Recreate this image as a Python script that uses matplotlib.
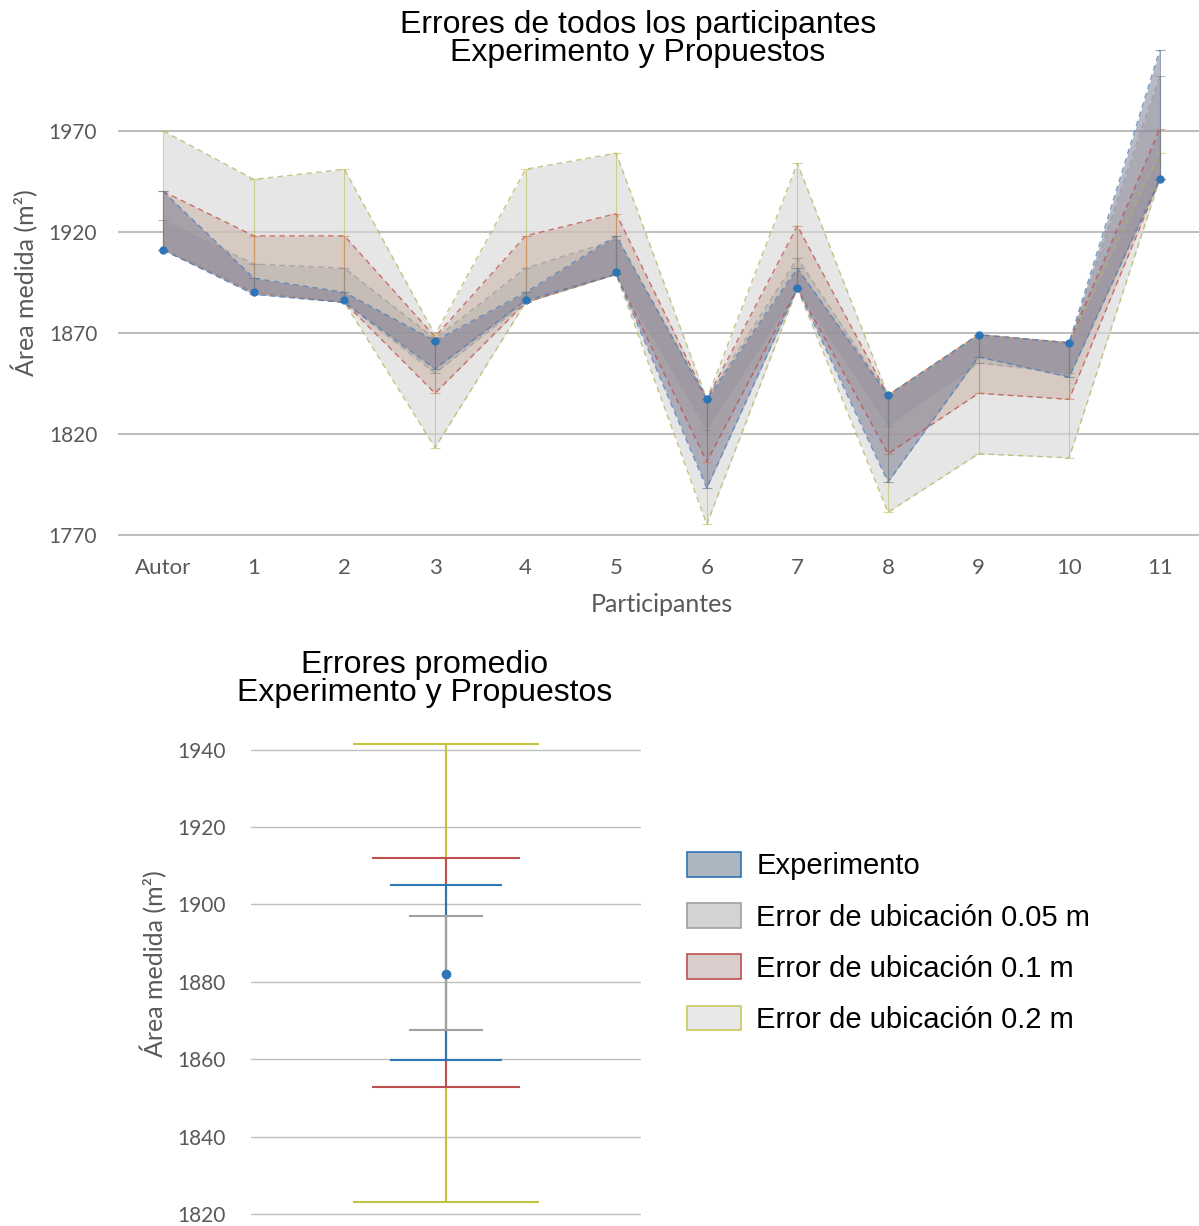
import matplotlib
matplotlib.use("Agg")
import matplotlib.pyplot as plt
from matplotlib.patches import Patch

# ---- data ----
participantes = ["Autor", "1", "2", "3", "4", "5", "6", "7", "8", "9", "10", "11"]
area_medida = [1911, 1890, 1886, 1866, 1886, 1900, 1837, 1892, 1839, 1869, 1865, 1946]

exp_sup = [1940, 1897, 1890, 1866, 1890, 1918, 1837, 1902, 1839, 1869, 1865, 2010]
exp_inf = [1911, 1889, 1885, 1852, 1886, 1899, 1793, 1892, 1796, 1858, 1848, 1946]

e005_sup = [1926, 1904, 1902, 1867, 1902, 1916, 1837, 1907, 1839, 1869, 1865, 1997]
e005_inf = [1911, 1890, 1885, 1850, 1885, 1899, 1822, 1892, 1824, 1855, 1850, 1946]

e01_sup = [1940, 1918, 1918, 1868, 1918, 1929, 1837, 1923, 1839, 1869, 1865, 1971]
e01_inf = [1911, 1890, 1885, 1840, 1885, 1899, 1806, 1892, 1810, 1840, 1837, 1946]

e02_sup = [1970, 1946, 1951, 1869, 1951, 1959, 1837, 1954, 1839, 1869, 1865, 1959]
e02_inf = [1911, 1890, 1885, 1813, 1885, 1899, 1775, 1892, 1781, 1810, 1808, 1946]

# promedios
prom_medida = 1882.1
prom_nombres = ["Error de ubicación 0.2 m", "Error de ubicación 0.1 m",
                "Experimento", "Error de ubicación 0.05 m"]
prom_sup = [1941.5, 1912.0, 1905.0, 1897.0]
prom_inf = [1823.1, 1852.8, 1859.8, 1867.5]

GRIS = "#595959"
TICKFONT = "Lato"
TITLEFONT = "Liberation Sans"

fig = plt.figure(figsize=(11.99, 12.26), dpi=100)

# ---------------- top chart ----------------
ax = fig.add_axes([0.0984, 0.5632, 0.9066, 0.4123])
x = list(range(len(participantes)))

series = [
    ("0.2", e02_inf, e02_sup, "#D9D9D9", 0.65, "#B3B35E", "#BDBD55"),
    ("0.1", e01_inf, e01_sup, "#C8AFA2", 0.50, "#BE4B48", "#D27A4E"),
    ("0.05", e005_inf, e005_sup, "#AAA4A0", 0.35, "#9A9A9A", "#8A8A8A"),
    ("exp", exp_inf, exp_sup, "#7A7A92", 0.52, "#4A7EBB", "#5A7590"),
]

for name, lo, hi, fill, alpha, edge, barcol in series:
    ax.fill_between(x, lo, hi, color=fill, alpha=alpha, linewidth=0, zorder=2)
    ax.plot(x, hi, color=edge, lw=1, ls=(0, (4, 3)), zorder=3, alpha=0.75)
    ax.plot(x, lo, color=edge, lw=1, ls=(0, (4, 3)), zorder=3, alpha=0.75)

for name, lo, hi, fill, alpha, edge, barcol in series:
    err = [[m - l for m, l in zip(area_medida, lo)],
           [h - m for m, h in zip(area_medida, hi)]]
    ax.errorbar(x, area_medida, yerr=err, fmt="none", ecolor=barcol,
                elinewidth=0.8, capsize=3.5, capthick=0.8, zorder=4, alpha=0.6)

ax.plot(x, area_medida, "o", color="#2E75B6", ms=5, zorder=5)

ax.set_xlim(-0.5, 11.5)
ax.set_ylim(1769.5, 2020)
ax.set_yticks([1770, 1820, 1870, 1920, 1970])
ax.set_xticks(x)
ax.set_xticklabels(participantes)
ax.grid(axis="y", color="#BFBFBF", lw=1.5, zorder=0)
ax.set_axisbelow(True)
for s in ax.spines.values():
    s.set_visible(False)
ax.tick_params(length=0, labelsize=15, labelcolor=GRIS)
ax.tick_params(axis="x", labelsize=16, pad=16)
ax.tick_params(axis="y", pad=15)
for lab in ax.get_xticklabels() + ax.get_yticklabels():
    lab.set_family(TICKFONT)
ax.set_xlabel("Participantes", fontsize=18, color=GRIS, family=TICKFONT, labelpad=11)
ax.set_ylabel("Área medida (m²)", fontsize=18, color=GRIS, family=TICKFONT)
ax.yaxis.set_label_coords(-0.0736, 0.5)

fig.text(638 / 1199, 1 - 39 / 1226, "Errores de todos los participantes\nExperimento y Propuestos",
         ha="center", va="center", fontsize=23, family=TITLEFONT, linespacing=0.93)

# ---------------- bottom chart ----------------
ax2 = fig.add_axes([0.2093, 0.00816, 0.3253, 0.4119])
bar_cols = ["#C3C342", "#C0504D", "#2E75B6", "#A0A0A0"]
caps = [67, 53.5, 40, 26.5]
for nombre, lo, hi, c, cap in zip(prom_nombres, prom_inf, prom_sup, bar_cols, caps):
    ax2.errorbar([0], [prom_medida], yerr=[[prom_medida - lo], [hi - prom_medida]],
                 fmt="none", ecolor=c, elinewidth=1.5, capsize=cap, capthick=1.5, zorder=3)
ax2.plot([0], [prom_medida], "o", color="#2E75B6", ms=6, zorder=5)

ax2.set_xlim(-0.5, 0.5)
ax2.set_ylim(1819.5, 1950)
ax2.set_yticks(range(1820, 1941, 20))
ax2.set_xticks([])
ax2.grid(axis="y", color="#BFBFBF", lw=1, zorder=0)
ax2.set_axisbelow(True)
for s in ax2.spines.values():
    s.set_visible(False)
ax2.tick_params(length=0, labelsize=15, labelcolor=GRIS, pad=18)
for lab in ax2.get_yticklabels():
    lab.set_family(TICKFONT)
ax2.set_ylabel("Área medida (m²)", fontsize=18, color=GRIS, family=TICKFONT)
ax2.yaxis.set_label_coords(-0.215, 0.5)

fig.text(425 / 1199, 1 - 679 / 1226, "Errores promedio\nExperimento y Propuestos",
         ha="center", va="center", fontsize=23, family=TITLEFONT, linespacing=0.93)

# ---------------- legend ----------------
handles = [
    Patch(facecolor="#ABB5C0", edgecolor="#2E75B6", lw=1.2, label="Experimento"),
    Patch(facecolor="#D3D3D3", edgecolor="#A0A0A0", lw=1.2, label="Error de ubicación 0.05 m"),
    Patch(facecolor="#DACDCD", edgecolor="#C0504D", lw=1.2, label="Error de ubicación 0.1 m"),
    Patch(facecolor="#E8E8E8", edgecolor="#C8C85A", lw=1.2, label="Error de ubicación 0.2 m"),
]
fig.legend(handles=handles, loc="upper left", bbox_to_anchor=(687 / 1199, 1 - 852 / 1226),
           frameon=False, prop={"family": TITLEFONT, "size": 21}, borderpad=0,
           borderaxespad=0, handlelength=1.86, handleheight=0.93, handletextpad=0.52,
           labelspacing=0.78)

fig.savefig("out.png", dpi=100)
